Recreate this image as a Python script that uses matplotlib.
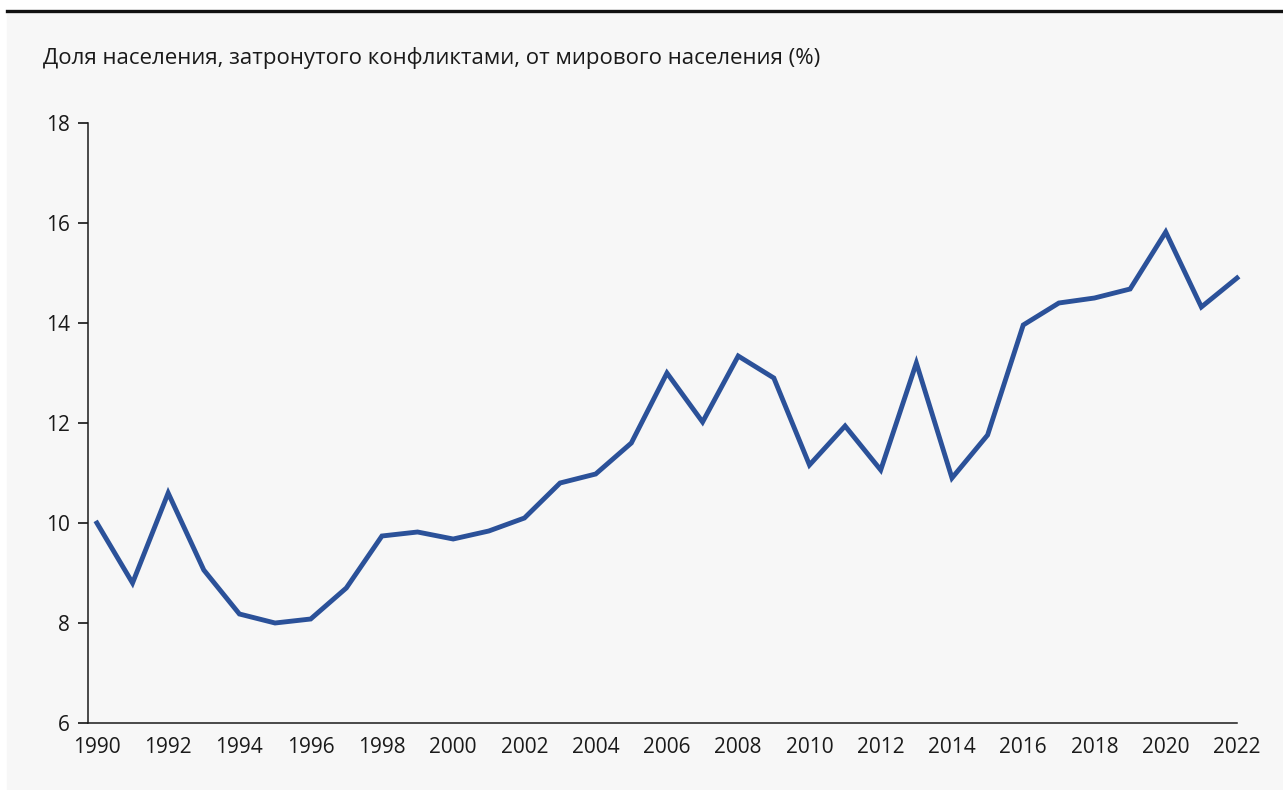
import matplotlib
matplotlib.use("Agg")
import matplotlib.pyplot as plt
from matplotlib.lines import Line2D

# Share of world population affected by conflict, %
years = list(range(1990, 2023))
share = [
    10.0, 8.8, 10.6, 9.06, 8.18, 8.0, 8.08, 8.7, 9.74, 9.82,
    9.68, 9.84, 10.1, 10.8, 10.98, 11.6, 13.0, 12.02, 13.34, 12.9,
    11.16, 11.94, 11.06, 13.2, 10.9, 11.76, 13.96, 14.4, 14.5, 14.68,
    15.82, 14.32, 14.9,
]
x_ticks = list(range(1990, 2023, 2))
y_ticks = [6, 8, 10, 12, 14, 16, 18]
title = "Доля населения, затронутого конфликтами, от мирового населения (%)"

W, H = 1283, 790
plt.rcParams["font.family"] = ["Open Sans", "DejaVu Sans"]

fig = plt.figure(figsize=(W / 100, H / 100), dpi=100)
fig.patch.set_facecolor("white")

# grey panel + black rule on top
fig.add_artist(plt.Rectangle((7 / W, 0), 1 - 7 / W, 1 - 11 / H,
                             transform=fig.transFigure, color="#f7f7f7", zorder=-5))
fig.add_artist(Line2D([7 / W, 1], [1 - 11 / H, 1 - 11 / H], transform=fig.transFigure,
                      color="#111111", lw=2.4, zorder=-4))

fig.text(43 / W, 1 - 58 / H, title, fontsize=16, color="#1a1a1a", va="center", ha="left")

ax = fig.add_axes([88 / W, 1 - 723 / H, (1237 - 88) / W, (723 - 123) / H])
ax.set_zorder(2)
ax.set_facecolor("none")
ax.plot(years, share, color="#2b5199", lw=3.5, solid_joinstyle="miter", clip_on=False)

ax.set_xlim(1989.75, 2022)
ax.set_ylim(6, 18)
ax.set_xticks(x_ticks)
ax.set_yticks(y_ticks)
ax.tick_params(axis="x", length=0, pad=10, labelsize=15, labelcolor="#1a1a1a")
ax.tick_params(axis="y", length=7, width=1.1, pad=6, labelsize=15, labelcolor="#1a1a1a")
for s in ["top", "right"]:
    ax.spines[s].set_visible(False)
for s in ["left", "bottom"]:
    ax.spines[s].set_linewidth(1.1)
    ax.spines[s].set_color("#1a1a1a")

fig.savefig("out.png", dpi=100, facecolor=fig.get_facecolor())
